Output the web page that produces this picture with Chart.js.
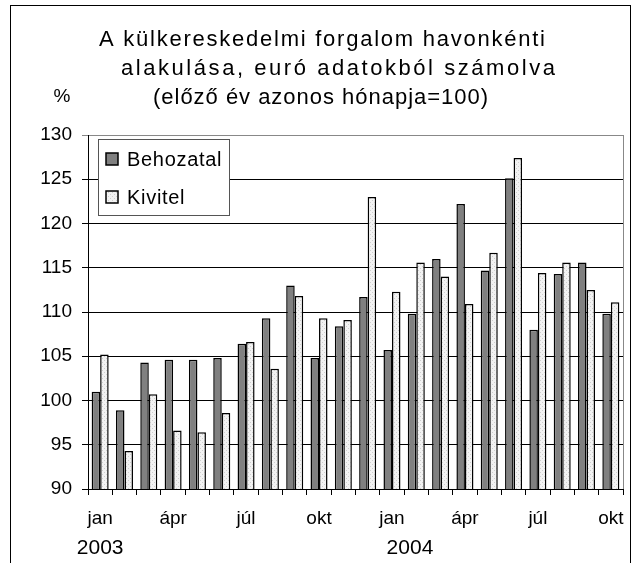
<!DOCTYPE html>
<html><head><meta charset="utf-8">
<script src="https://cdn.jsdelivr.net/npm/chart.js@4/dist/chart.umd.min.js"></script>
<style>html,body{margin:0;padding:0;background:#fff}</style>
</head><body>
<canvas id="c" width="637" height="563"></canvas>
<script>
const months = ['jan','feb','márc','ápr','máj','jún','júl','aug','szept','okt','nov','dec',
                'jan','feb','márc','ápr','máj','jún','júl','aug','szept','okt'];
const years = ['2003','2004'];
const behozatal = [101.0,98.9,104.3,104.6,104.6,104.8,106.4,109.3,113.0,104.8,108.4,111.7,
                   105.7,109.8,116.0,122.2,114.7,125.1,108.0,114.3,115.6,109.8];
const kivitel = [105.2,94.3,100.7,96.6,96.4,98.6,106.6,103.6,111.8,109.3,109.1,123.0,
                 112.3,115.6,114.0,110.9,116.7,127.4,114.4,115.6,112.5,111.1];
const yTicks = [90,95,100,105,110,115,120,125,130];
const titleLines = ['A külkereskedelmi forgalom havonkénti','alakulása, euró adatokból számolva','(előző év azonos hónapja=100)'];
const seriesNames = ['Behozatal','Kivitel'];

const FONT = '"Liberation Sans", Arial, sans-serif';

function makePattern(){
  const p = document.createElement('canvas'); p.width = 4; p.height = 4;
  const g = p.getContext('2d');
  g.fillStyle = '#f2f2f2'; g.fillRect(0,0,4,4);
  g.fillStyle = '#cfcfcf';
  g.fillRect(0,0,1,1); g.fillRect(2,2,1,1);
  return g.createPattern(p,'repeat');
}
const ctx0 = document.getElementById('c').getContext('2d');
const kivFill = makePattern();

// draw text stretched to a given width using letter spacing
function spacedText(c, text, left, y, width){
  c.letterSpacing = '0px';
  const w = c.measureText(text).width;
  const n = [...text].length;
  const sp = n > 1 ? Math.max(0, (width - w) / (n - 1)) : 0;
  c.letterSpacing = sp + 'px';
  c.textAlign = 'left';
  c.fillText(text, left, y);
  c.letterSpacing = '0px';
}

const titleLayout = [ {left:99, width:446, base:46}, {left:121, width:434, base:75}, {left:153, width:335, base:104} ];

const extras = {
  id:'extras',
  afterDraw(chart){
    const c = chart.ctx, a = chart.chartArea, x = chart.scales.x;
    c.save();
    // outer frame
    c.strokeStyle = '#000'; c.lineWidth = 1;
    c.strokeRect(10.5, 5.5, 620, 600);
    // plot border right (gray)
    c.strokeStyle = '#888';
    c.beginPath(); c.moveTo(a.right+0.5, a.top); c.lineTo(a.right+0.5, a.bottom); c.stroke();
    // title
    c.fillStyle = '#000'; c.textBaseline = 'alphabetic';
    c.font = '22px ' + FONT;
    titleLines.forEach((t,i)=> spacedText(c, t, titleLayout[i].left, titleLayout[i].base, titleLayout[i].width));
    // %
    c.textAlign = 'center'; c.textBaseline = 'middle';
    c.font = '19px ' + FONT;
    c.fillText('%', 62, 97);
    // years
    c.font = '21px ' + FONT; c.textBaseline = 'alphabetic';
    c.fillText(years[0], x.getPixelForValue(0), 554);
    c.fillText(years[1], x.getPixelForValue(12) + 18, 554);
    // legend
    const lx = 98.5, ly = 139.5, lw = 131, lh = 76;
    c.fillStyle = '#fff'; c.fillRect(lx, ly, lw, lh);
    c.strokeStyle = '#555'; c.lineWidth = 1; c.strokeRect(lx, ly, lw, lh);
    const fills = ['#808080', kivFill];
    c.font = '20px ' + FONT;
    seriesNames.forEach((n,i)=>{
      const base = 165.5 + i*38;
      c.fillStyle = fills[i]; c.fillRect(106, base-12.5, 12, 12);
      c.strokeStyle = '#000'; c.lineWidth = 1.5; c.strokeRect(106, base-12.5, 12, 12);
      c.fillStyle = '#000';
      c.letterSpacing = '0.7px'; c.textAlign = 'left';
      c.fillText(n, 127, base);
      c.letterSpacing = '0px';
    });
    c.restore();
  }
};

new Chart(ctx0, {
  type:'bar',
  data:{
    labels: months,
    datasets:[
      {label:seriesNames[0], data:behozatal, backgroundColor:'#808080', borderColor:'#000', borderWidth:1.5,
       categoryPercentage:0.7, barPercentage:1.0},
      {label:seriesNames[1], data:kivitel, backgroundColor:kivFill, borderColor:'#000', borderWidth:1.5,
       categoryPercentage:0.7, barPercentage:1.0}
    ]
  },
  options:{
    responsive:false, animation:false, devicePixelRatio:1,
    layout:{padding:{top:135,left:0,right:14,bottom:0}},
    plugins:{legend:{display:false}, title:{display:false}, tooltip:{enabled:false}},
    scales:{
      x:{
        afterFit(s){ s.height = 74; },
        grid:{offset:true, drawOnChartArea:false, drawTicks:true, tickLength:6, color:'#000'},
        border:{display:true, color:'#000', width:1},
        ticks:{autoSkip:false, maxRotation:0, minRotation:0, color:'#000', padding:12,
               font:{family:FONT, size:19},
               callback:(v,i)=> i%3===0 ? months[i] : ''}
      },
      y:{
        min:yTicks[0], max:yTicks[yTicks.length-1],
        afterFit(s){ s.width = 88; },
        afterBuildTicks(s){ s.ticks = yTicks.map(v=>({value:v})); },
        grid:{color:(c)=> c.tick && c.tick.value===130 ? '#888' : '#000', lineWidth:1, tickLength:6, drawTicks:true},
        border:{display:true, color:'#000', width:1},
        ticks:{color:'#000', padding:10, font:{family:FONT, size:19}}
      }
    }
  },
  plugins:[extras]
});
</script>
</body></html>
